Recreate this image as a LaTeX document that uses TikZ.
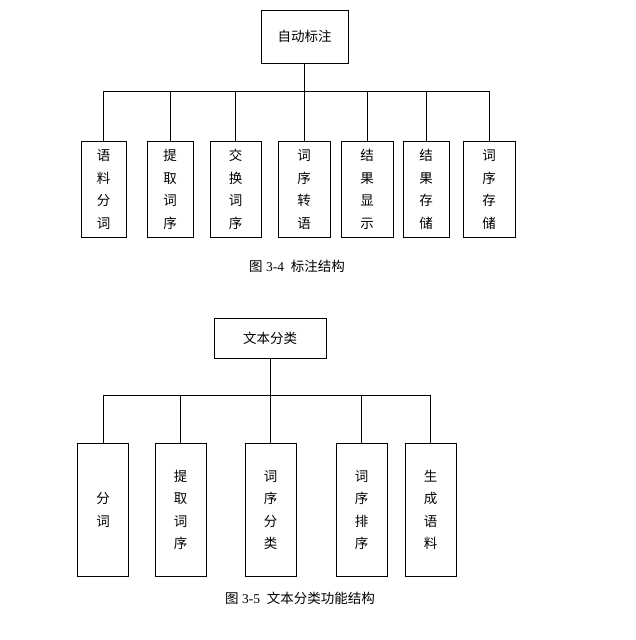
\documentclass[tikz,border=0pt]{standalone}
\usepackage{fontspec}
\setmainfont{Liberation Serif}
\newfontfamily\cjk{Noto Sans CJK SC}
\begin{document}
\begin{tikzpicture}[x=1pt,y=-1pt,
  box/.style={draw,thick,inner sep=0pt,font=\cjk\fontsize{13.5}{22.5}\selectfont,align=center},
  ln/.style={thick}]
\useasboundingbox (0,0) rectangle (635,640);
% top tree
\node[box,minimum width=87,minimum height=53] (root1) at (304.5,36.5) {自动标注};
\coordinate (j1) at (304.5,91);
\draw[ln] (root1.south) -- (j1);
\draw[ln] (103,91) -- (489,91);
\foreach \n/\x/\w/\t in {a/103.5/45/语\\料\\分\\词, b/170/46/提\\取\\词\\序, c/235.5/51/交\\换\\词\\序, d/304/52/词\\序\\转\\语, e/367/52/结\\果\\显\\示, f/426/46/结\\果\\存\\储, g/489/52/词\\序\\存\\储}{
  \node[box,minimum width=\w,minimum height=96,anchor=north] (\n) at (\x,141) {\t};
  \draw[ln] (\x,91) -- (\n.north);
}
\node[font=\fontsize{13.5}{16}\selectfont] (cap1) at (297,266) {{\cjk 图} 3-4\ \ {\cjk 标注结构}};
% bottom tree
\node[box,minimum width=112,minimum height=40] (root2) at (270,338) {文本分类};
\draw[ln] (root2.south) -- (270,395);
\draw[ln] (103,395) -- (430,395);
\foreach \n/\x/\t in {p/103/分\\词, q/180.5/提\\取\\词\\序, r/270.5/词\\序\\分\\类, s/361.5/词\\序\\排\\序, t/430.5/生\\成\\语\\料}{
  \node[box,minimum width=51,minimum height=133,anchor=north] (\n) at (\x,443) {\t};
  \draw[ln] (\x,395) -- (\n.north);
}
\node[font=\fontsize{13.5}{16}\selectfont] (cap2) at (300,598) {{\cjk 图} 3-5\ \ {\cjk 文本分类功能结构}};
\end{tikzpicture}
\end{document}
